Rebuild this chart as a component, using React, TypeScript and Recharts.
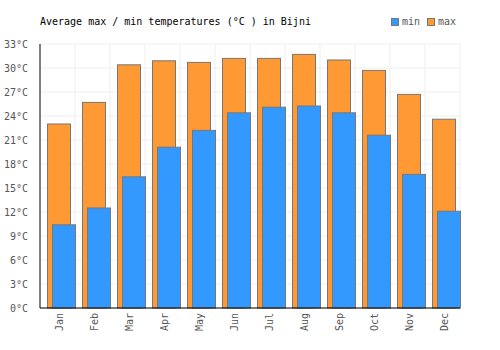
import React from "react";
import { BarChart, Bar, XAxis, YAxis, CartesianGrid } from "recharts";

const months = ["Jan", "Feb", "Mar", "Apr", "May", "Jun", "Jul", "Aug", "Sep", "Oct", "Nov", "Dec"];
const maxTemps = [23.0, 25.7, 30.4, 30.9, 30.7, 31.2, 31.2, 31.7, 31.0, 29.7, 26.7, 23.6];
const minTemps = [10.4, 12.5, 16.4, 20.1, 22.2, 24.4, 25.1, 25.25, 24.4, 21.6, 16.7, 12.1];
const yTicks = [0, 3, 6, 9, 12, 15, 18, 21, 24, 27, 30, 33];

const MONO = "'DejaVu Sans Mono', monospace";
const BLUE = "#3399ff";
const ORANGE = "#ff9933";
const EDGE = "#777";

const data = months.map((m, i) => ({ month: m, max: maxTemps[i], min: minTemps[i] }));

// shift the overlapped pair a little right inside each band
const shifted = (fill: string) => (p: any) => (
  <rect x={p.x + 3.5} y={p.y} width={p.width} height={p.height} fill={fill} stroke={EDGE} strokeWidth={1} />
);

const MonthTick = (p: any) => {
  const tx = p.x + 5;
  const ty = p.y - 3;
  return (
    <text
      x={tx}
      y={ty}
      transform={`rotate(-90, ${tx}, ${ty})`}
      textAnchor="end"
      fontFamily={MONO}
      fontSize={10}
      fill="#555"
    >
      {p.payload.value}
    </text>
  );
};

export default function App() {
  return (
    <div style={{ position: "absolute", left: 0, top: 0, width: 500, height: 350, background: "#fff" }}>
      <div style={{ position: "absolute", left: 40, top: 16, fontFamily: MONO, fontSize: 10, color: "#000" }}>
        Average max / min temperatures (°C ) in Bijni
      </div>
      <div
        style={{
          position: "absolute",
          left: 391,
          top: 16,
          fontFamily: MONO,
          fontSize: 10,
          color: "#555",
          display: "flex",
          alignItems: "center",
        }}
      >
        <span style={{ width: 6, height: 6, background: BLUE, border: `1px solid ${EDGE}`, marginRight: 3 }} />
        <span style={{ marginRight: 7 }}>min</span>
        <span style={{ width: 6, height: 6, background: ORANGE, border: `1px solid ${EDGE}`, marginRight: 3 }} />
        <span>max</span>
      </div>
      <BarChart
        width={500}
        height={350}
        data={data}
        margin={{ top: 44, right: 40, bottom: 0, left: 0 }}
        barSize={23}
        barGap={-18}
      >
        <CartesianGrid
          stroke="#eee"
          verticalCoordinatesGenerator={({ offset }: any) =>
            months.map((_, i) => offset.left + ((i + 1) * offset.width) / months.length)
          }
        />
        <XAxis
          dataKey="month"
          height={42}
          axisLine={{ stroke: "#000" }}
          tickLine={false}
          tick={<MonthTick />}
          interval={0}
        />
        <YAxis
          width={40}
          domain={[0, 33]}
          ticks={yTicks}
          axisLine={{ stroke: "#000" }}
          tickLine={false}
          tickFormatter={(v: number) => `${v}°C`}
          tick={{ fontFamily: MONO, fontSize: 10, fill: "#555" }}
          tickMargin={6}
        />
        <Bar dataKey="max" fill={ORANGE} shape={shifted(ORANGE)} isAnimationActive={false} />
        <Bar dataKey="min" fill={BLUE} shape={shifted(BLUE)} isAnimationActive={false} />
      </BarChart>
    </div>
  );
}
